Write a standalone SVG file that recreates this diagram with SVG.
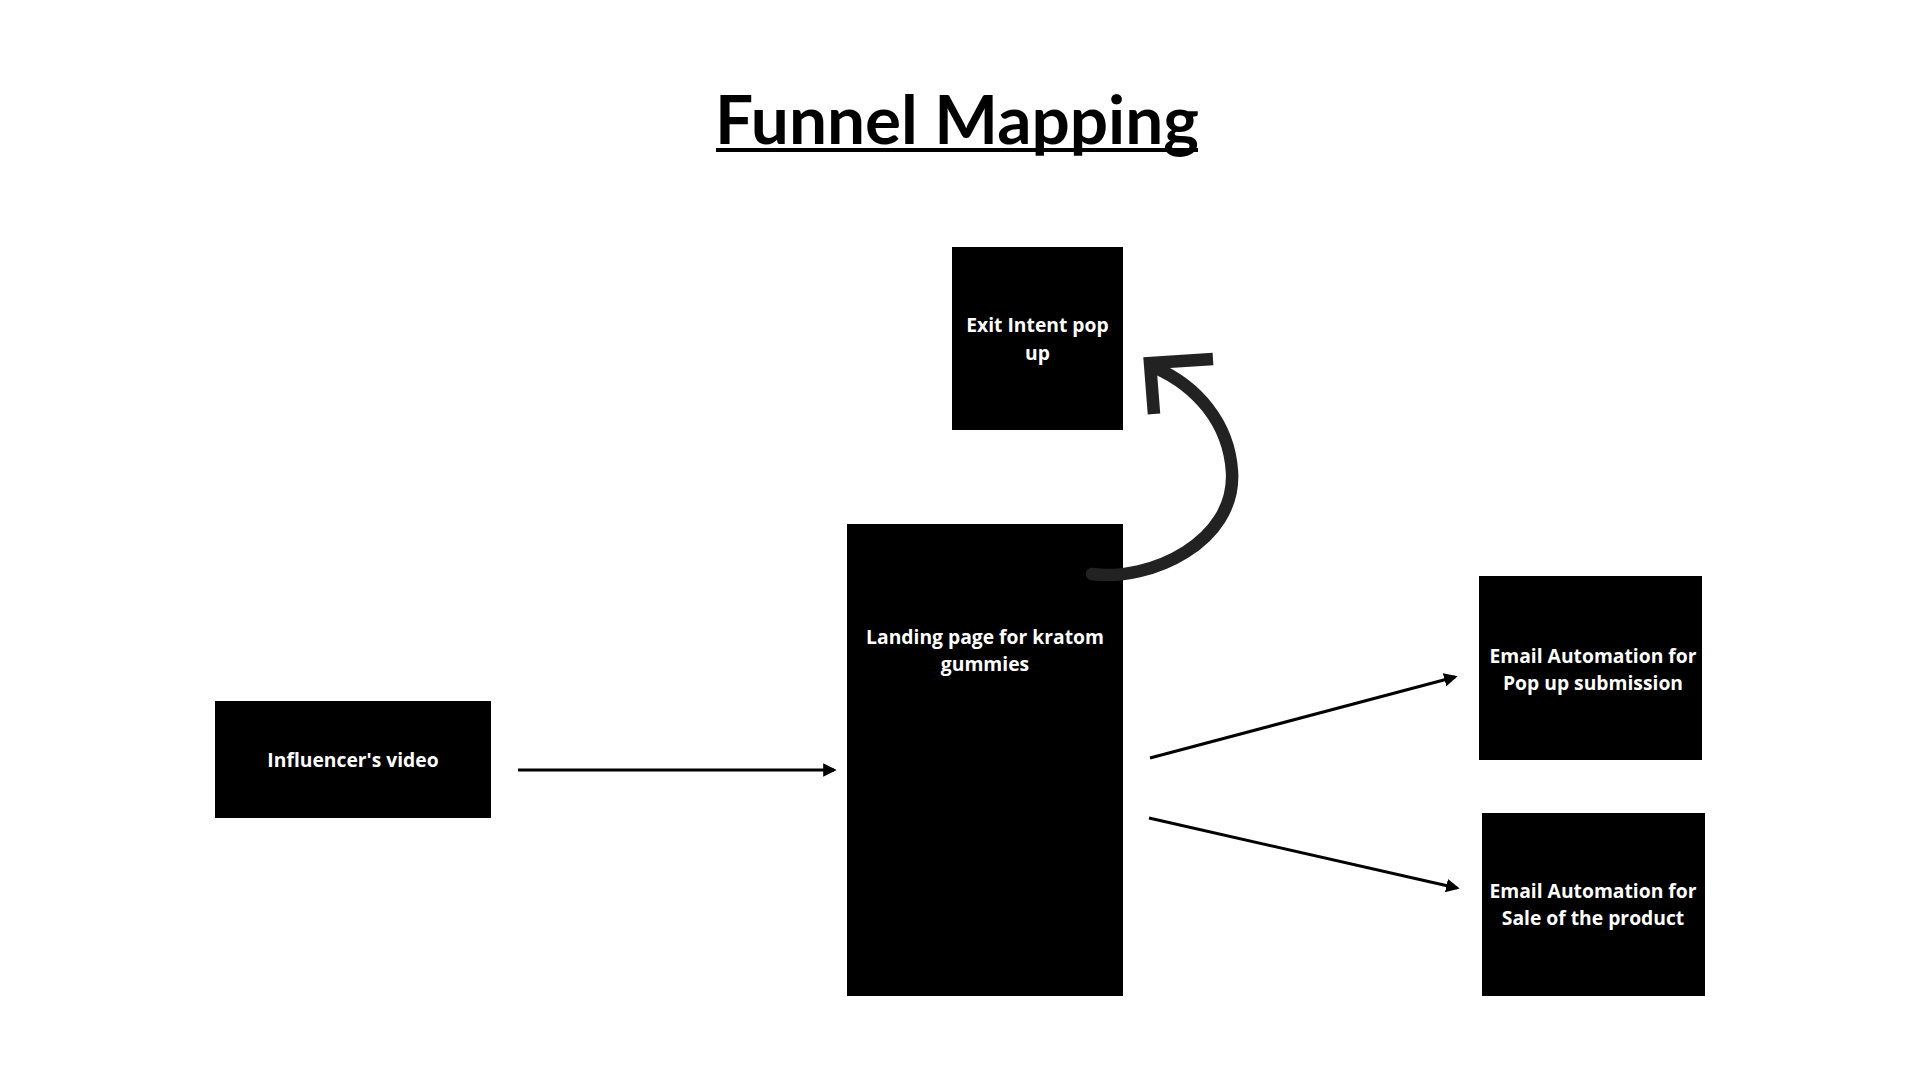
<svg xmlns="http://www.w3.org/2000/svg" width="1920" height="1080" viewBox="0 0 1920 1080">
<defs>
<style>
.box{fill:#000;}
.lbl{font-family:"Open Sans","Liberation Sans",sans-serif;font-weight:700;font-size:19.3px;fill:#fff;text-anchor:middle;}
.title{font-family:Lato,"Open Sans","Liberation Sans",sans-serif;font-weight:700;font-size:67.5px;fill:#000;text-anchor:middle;}
.conn{stroke:#000;stroke-width:3;fill:none;}
.brush{stroke:#222;fill:none;stroke-width:12.5;}
</style>
<marker id="ah" viewBox="0 0 10 10" refX="8" refY="5" markerWidth="4.5" markerHeight="4.5" orient="auto" markerUnits="strokeWidth">
<path d="M0,0 L10,5 L0,10 z" fill="#000"/>
</marker>
</defs>
<rect width="1920" height="1080" fill="#fff"/>
<g id="title">
<text class="title" x="957" y="144">Funnel Mapping</text>
<line x1="716" y1="150" x2="1198" y2="150" stroke="#000" stroke-width="4"/>
</g>
<g id="node-exit">
<rect class="box" x="952" y="247" width="171" height="183"/>
<text class="lbl" x="1037.5" y="332">Exit Intent pop</text>
<text class="lbl" x="1037.5" y="360">up</text>
</g>
<g id="node-landing">
<rect class="box" x="847" y="524" width="276" height="472"/>
<text class="lbl" x="985" y="644">Landing page for kratom</text>
<text class="lbl" x="985" y="671">gummies</text>
</g>
<g id="node-influencer">
<rect class="box" x="215" y="701" width="276" height="117"/>
<text class="lbl" x="353" y="767">Influencer's video</text>
</g>
<g id="node-email-popup">
<rect class="box" x="1479" y="576" width="223" height="184"/>
<text class="lbl" x="1593" y="663">Email Automation for</text>
<text class="lbl" x="1593" y="690">Pop up submission</text>
</g>
<g id="node-email-sale">
<rect class="box" x="1482" y="813" width="223" height="183"/>
<text class="lbl" x="1593" y="898">Email Automation for</text>
<text class="lbl" x="1593" y="925">Sale of the product</text>
</g>
<g id="connectors">
<line class="conn" x1="518" y1="770" x2="834" y2="770" marker-end="url(#ah)"/>
<line class="conn" x1="1150" y1="758" x2="1455" y2="677" marker-end="url(#ah)"/>
<line class="conn" x1="1149" y1="818" x2="1457" y2="888" marker-end="url(#ah)"/>
<path class="brush" stroke-linecap="round" d="M1092,574 C1150,582 1236,542 1232,472 C1229,422 1196,386 1156,368"/>
<path class="brush" stroke-width="13" stroke-linejoin="miter" d="M1213,359 L1150,363 L1154,414"/>
</g>
</svg>
